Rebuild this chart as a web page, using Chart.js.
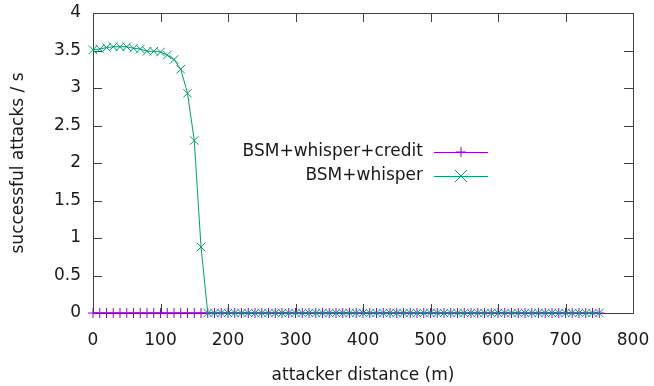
<!DOCTYPE html>
<html>
<head>
<meta charset="utf-8">
<script src="https://cdn.jsdelivr.net/npm/chart.js@4"></script>
<style>
  html, body { margin: 0; padding: 0; background: #fff; }
  #wrap { width: 654px; height: 386px; }
</style>
</head>
<body>
<div id="wrap"><canvas id="attackChart" width="654" height="386"></canvas></div>
<script>
// attacker distance in metres, sampled every 10 m
const distances = [];
for (let d = 0; d <= 750; d += 10) distances.push(d);

// BSM+whisper+credit: no attack gets through at any distance
const creditRate = distances.map(() => 0);

// BSM+whisper: rate up to 160 m, then zero
const whisperHead = [3.51, 3.52, 3.54, 3.55, 3.55, 3.55, 3.53, 3.52, 3.49, 3.49,
                     3.48, 3.44, 3.38, 3.25, 2.93, 2.30, 0.88];
const whisperRate = distances.map((d, i) => i < whisperHead.length ? whisperHead[i] : 0);

const xTicks = [0, 100, 200, 300, 400, 500, 600, 700, 800];
const yTicks = [0, 0.5, 1, 1.5, 2, 2.5, 3, 3.5, 4];

const seriesNames = ['BSM+whisper+credit', 'BSM+whisper'];
const seriesColors = ['#9400d3', '#009e73'];

const FONT = '"DejaVu Sans", Verdana, sans-serif';
const INK = '#1a1a1a';

function toPoints(ys) {
  return distances.map((d, i) => ({ x: d, y: ys[i] }));
}

// gnuplot style frame: box around the plot with ticks pointing inwards on all four sides
const framePlugin = {
  id: 'frame',
  beforeDatasetsDraw(chart) {
    const { ctx, chartArea: a, scales } = chart;
    const len = 9;
    ctx.save();
    ctx.strokeStyle = '#404040';
    ctx.lineWidth = 1;
    ctx.beginPath();
    xTicks.forEach(v => {
      const px = Math.round(scales.x.getPixelForValue(v)) + 0.5;
      ctx.moveTo(px, a.bottom); ctx.lineTo(px, a.bottom - len);
      ctx.moveTo(px, a.top); ctx.lineTo(px, a.top + len);
    });
    yTicks.forEach(v => {
      const py = Math.round(scales.y.getPixelForValue(v)) + 0.5;
      ctx.moveTo(a.left, py); ctx.lineTo(a.left + len, py);
      ctx.moveTo(a.right, py); ctx.lineTo(a.right - len, py);
    });
    ctx.stroke();
    ctx.strokeRect(Math.round(a.left) + 0.5, Math.round(a.top) + 0.5,
                   Math.round(a.right - a.left), Math.round(a.bottom - a.top));
    ctx.restore();
  }
};

// key inside the plot: right-aligned names followed by a short line sample with its marker
const keyPlugin = {
  id: 'key',
  afterDatasetsDraw(chart) {
    const { ctx } = chart;
    const textRight = 423, lineL = 434, lineR = 488, rowY = [152, 176];
    ctx.save();
    ctx.font = '17px ' + FONT;
    ctx.textAlign = 'right';
    ctx.textBaseline = 'middle';
    seriesNames.forEach((name, i) => {
      const y = rowY[i];
      ctx.fillStyle = INK;
      ctx.fillText(name, textRight, y);
      ctx.strokeStyle = seriesColors[i];
      ctx.lineWidth = 1;
      ctx.beginPath();
      ctx.moveTo(lineL, y + 0.5); ctx.lineTo(lineR, y + 0.5);
      const cx = (lineL + lineR) / 2;
      if (i === 0) {
        ctx.moveTo(cx, y - 5); ctx.lineTo(cx, y + 5);
        ctx.moveTo(cx - 5, y); ctx.lineTo(cx + 5, y);
      } else {
        ctx.moveTo(cx - 6, y - 6); ctx.lineTo(cx + 6, y + 6);
        ctx.moveTo(cx - 6, y + 6); ctx.lineTo(cx + 6, y - 6);
      }
      ctx.stroke();
    });
    ctx.restore();
  }
};

new Chart(document.getElementById('attackChart'), {
  type: 'line',
  data: {
    datasets: [
      {
        label: seriesNames[0],
        data: toPoints(creditRate),
        borderColor: seriesColors[0],
        backgroundColor: seriesColors[0],
        borderWidth: 1,
        pointStyle: 'cross',
        pointRadius: 5,
        pointBorderWidth: 1,
        order: 1,
        clip: false
      },
      {
        label: seriesNames[1],
        data: toPoints(whisperRate),
        borderColor: seriesColors[1],
        backgroundColor: seriesColors[1],
        borderWidth: 1,
        pointStyle: 'crossRot',
        pointRadius: 6,
        pointBorderWidth: 1,
        order: 0,
        clip: false
      }
    ]
  },
  options: {
    responsive: false,
    animation: false,
    layout: { padding: { left: 0, right: 21, top: 13, bottom: 0 } },
    plugins: {
      legend: { display: false },
      tooltip: { enabled: false }
    },
    scales: {
      x: {
        type: 'linear',
        min: 0,
        max: 800,
        afterFit(scale) {
          scale.height = 73;
          scale.paddingLeft = 0;
          scale.paddingRight = 0;
        },
        afterBuildTicks(scale) { scale.ticks = xTicks.map(v => ({ value: v })); },
        grid: { display: false, drawTicks: false },
        border: { display: false },
        ticks: {
          color: INK, font: { family: FONT, size: 17 }, padding: 17, maxRotation: 0,
          callback: v => String(v)
        },
        title: {
          display: true,
          text: 'attacker distance (m)',
          color: INK,
          font: { family: FONT, size: 17 },
          padding: { top: 0, bottom: 0 }
        }
      },
      y: {
        min: 0,
        max: 4,
        afterFit(scale) {
          scale.width = 93;
          scale.paddingTop = 0;
          scale.paddingBottom = 0;
        },
        afterBuildTicks(scale) { scale.ticks = yTicks.map(v => ({ value: v })); },
        grid: { display: false, drawTicks: false },
        border: { display: false },
        ticks: {
          color: INK, font: { family: FONT, size: 17 }, padding: 12,
          callback: v => String(v)
        },
        title: {
          display: true,
          text: 'successful attacks / s',
          color: INK,
          font: { family: FONT, size: 17 },
          padding: { top: 8, bottom: 0 }
        }
      }
    }
  },
  plugins: [framePlugin, keyPlugin]
});
</script>
</body>
</html>
